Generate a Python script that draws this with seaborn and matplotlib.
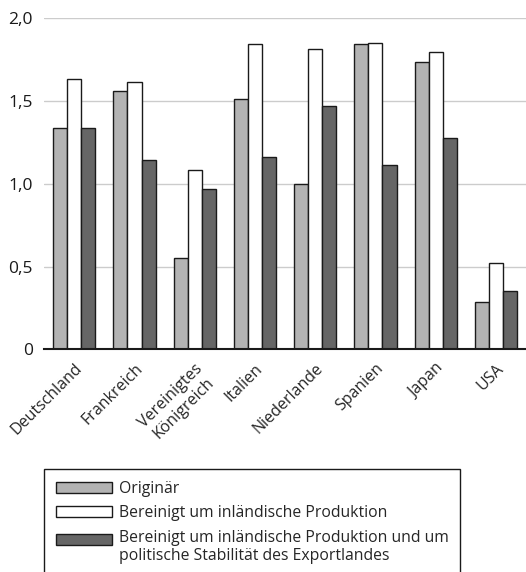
import numpy as np
import pandas as pd
import matplotlib
matplotlib.use("Agg")
import matplotlib.pyplot as plt
import seaborn as sns
from matplotlib.patches import Rectangle
from matplotlib.legend_handler import HandlerPatch
from matplotlib.ticker import FixedLocator, FuncFormatter

# Werte
countries = ["Deutschland", "Frankreich", "Vereinigtes\nKönigreich", "Italien",
             "Niederlande", "Spanien", "Japan", "USA"]
originaer = [1.335, 1.56, 0.55, 1.51, 1.0, 1.84, 1.735, 0.285]
bereinigt_produktion = [1.63, 1.615, 1.085, 1.84, 1.81, 1.85, 1.795, 0.52]
bereinigt_stabilitaet = [1.335, 1.14, 0.965, 1.16, 1.47, 1.115, 1.275, 0.355]

series_labels = ["Originär",
                 "Bereinigt um inländische Produktion",
                 "Bereinigt um inländische Produktion und um\npolitische Stabilität des Exportlandes"]
series_colors = ["#b3b3b3", "#ffffff", "#666666"]

df = pd.DataFrame({
    "Land": countries * 3,
    "Wert": originaer + bereinigt_produktion + bereinigt_stabilitaet,
    "Reihe": [series_labels[0]] * len(countries)
             + [series_labels[1]] * len(countries)
             + [series_labels[2]] * len(countries),
})

sns.set_style("white")
plt.rcParams["font.family"] = ["Open Sans", "DejaVu Sans"]

fig = plt.figure(figsize=(5.26, 5.72), dpi=100)
ax = fig.add_axes([0.084, 0.389, 0.916, 0.58])

sns.barplot(data=df, x="Land", y="Wert", hue="Reihe", hue_order=series_labels,
            palette=series_colors, width=0.7, gap=0, edgecolor="#1a1a1a",
            linewidth=1.0, ax=ax)

ax.set_ylim(0, 2.0)
ax.set_xlim(-0.5, len(countries) - 0.5)
ax.set_xlabel("")
ax.set_ylabel("")

# Gitternetz
ax.set_yticks([0, 0.5, 1.0, 1.5, 2.0])
ax.yaxis.set_major_formatter(FuncFormatter(
    lambda v, p: "0" if v == 0 else f"{v:.1f}".replace(".", ",")))
ax.grid(axis="y", color="#cccccc", linewidth=1.0)
ax.set_axisbelow(True)
ax.tick_params(axis="y", length=0, pad=8, labelsize=12.5, colors="#1a1a1a")

# x-Achse: Striche zwischen den Gruppen, Beschriftung in der Mitte
ax.xaxis.set_major_locator(FixedLocator(np.arange(len(countries)) - 0.5))
ax.xaxis.set_major_formatter(FuncFormatter(lambda v, p: ""))
ax.xaxis.set_minor_locator(FixedLocator(np.arange(len(countries))))
ax.set_xticklabels(countries, minor=True, rotation=45, ha="right",
                   rotation_mode="anchor", fontsize=11.5, multialignment="center")
ax.tick_params(axis="x", which="major", length=6, width=1.2, color="#1a1a1a")
ax.tick_params(axis="x", which="minor", length=0, pad=8)

for side in ["left", "right", "top"]:
    ax.spines[side].set_visible(False)
ax.spines["bottom"].set_color("#1a1a1a")
ax.spines["bottom"].set_linewidth(1.5)


# Legende: Kästchen des zweizeiligen Eintrags auf Höhe der ersten Zeile
def top_aligned(legend, orig_handle, xdescent, ydescent, width, height, fontsize):
    return Rectangle((-xdescent, -ydescent + 0.54 * fontsize), width, height)


handles, labels = ax.get_legend_handles_labels()
for h in handles:
    h.set_edgecolor("#1a1a1a")
    h.set_linewidth(1.0)
ax.legend(handles, labels, loc="upper left", bbox_to_anchor=(44 / 526, 1 - 469 / 572),
          bbox_transform=fig.transFigure, frameon=True, fancybox=False,
          edgecolor="#1a1a1a", framealpha=1, fontsize=11.3, handlelength=3.6,
          handleheight=0.7, labelspacing=0.55, borderpad=0.75, handletextpad=0.4,
          borderaxespad=0, handler_map={handles[2]: HandlerPatch(patch_func=top_aligned)})
ax.get_legend().get_frame().set_linewidth(1.0)

fig.savefig("out.png", dpi=100)
